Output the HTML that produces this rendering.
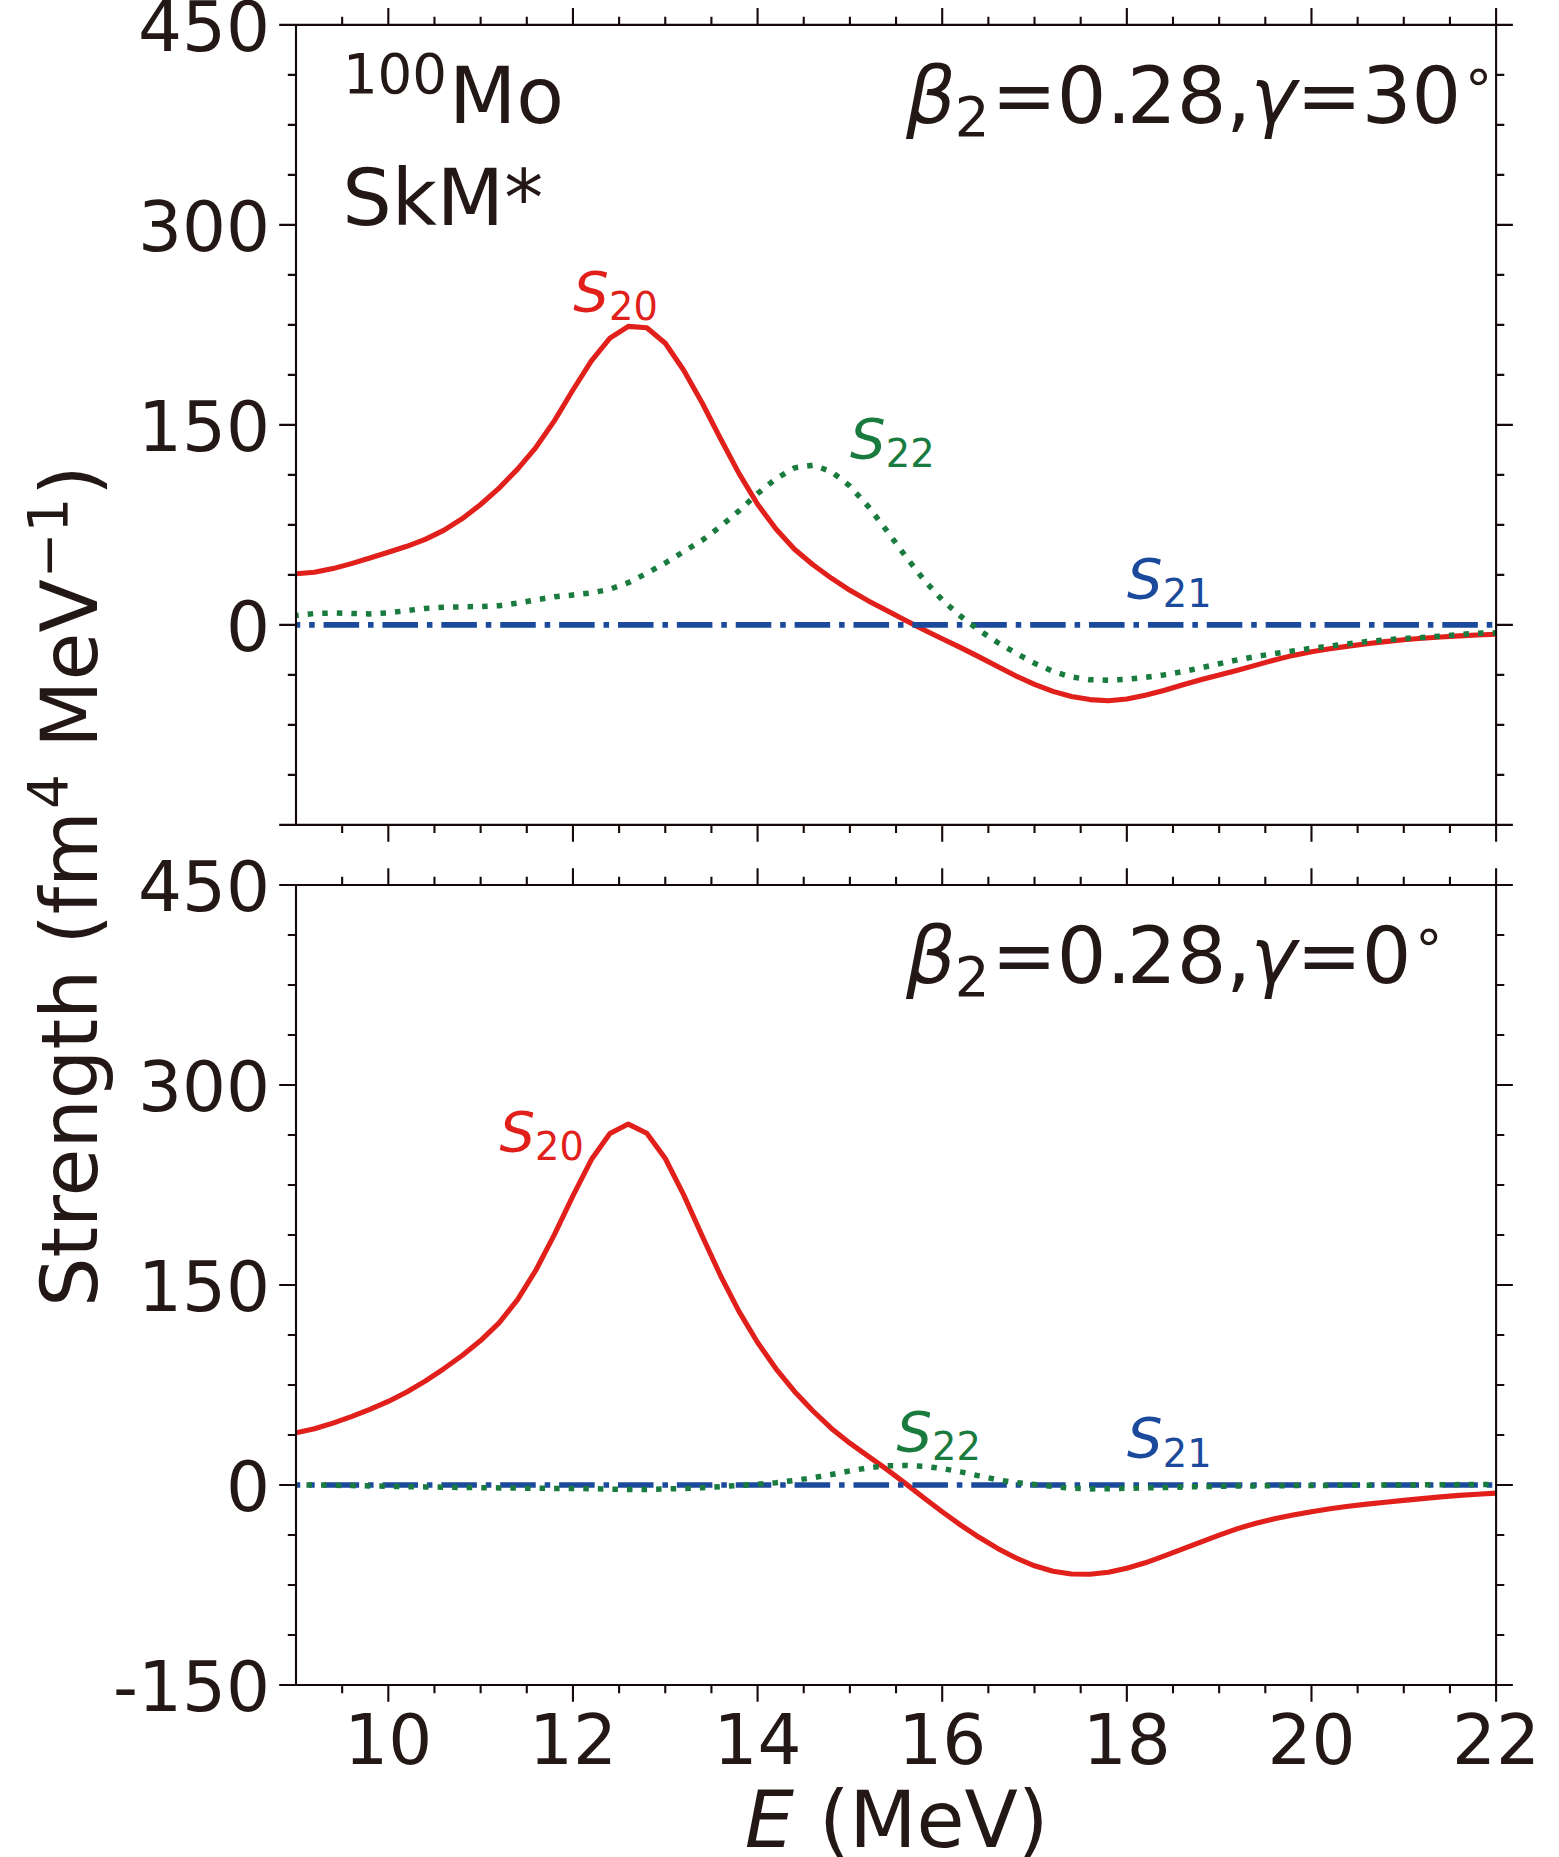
<!DOCTYPE html>
<html lang="en"><head><meta charset="utf-8"><title>Strength functions 100Mo SkM*</title>
<style>
html,body{margin:0;padding:0;background:#fff;}
body{width:1559px;height:1857px;overflow:hidden;}
svg{display:block;}
text{font-family:"DejaVu Sans","Liberation Sans",sans-serif;fill:#231815;}
.tk{font-size:69.2px;}
.lb{font-size:78px;}
.an{font-size:78px;}
.cl{font-size:56px;}
.sp{font-size:54.6px;}
.sb{font-size:38.4px;}
.it{font-style:italic;}
.ax{stroke:#150808;stroke-width:2.1;fill:none;stroke-linecap:butt;}
.cv{fill:none;stroke-linejoin:round;}
</style></head><body>
<svg width="1559" height="1857" viewBox="0 0 1559 1857">
<rect width="1559" height="1857" fill="#fff"/>
<defs>
<clipPath id="cpT"><rect x="296.0" y="24.9" width="1200.1" height="800.0"/></clipPath>
<clipPath id="cpB"><rect x="296.0" y="885.0" width="1200.1" height="800.0"/></clipPath>
</defs>

<g clip-path="url(#cpT)">
<path class="cv" d="M296.0 573.8 L314.5 572.3 L332.9 568.6 L351.4 563.6 L369.9 558.0 L388.3 552.2 L406.8 546.3 L425.2 539.4 L443.7 530.4 L462.2 518.7 L480.6 504.5 L499.1 488.1 L517.6 469.1 L536.0 447.3 L554.5 420.6 L572.9 390.0 L591.4 360.8 L609.9 338.1 L628.3 326.4 L646.8 327.7 L665.3 343.3 L683.7 370.3 L702.2 403.0 L720.7 439.0 L739.1 473.6 L757.6 504.3 L776.0 529.0 L794.5 549.2 L813.0 564.8 L831.4 578.2 L849.9 590.3 L868.4 600.9 L886.8 610.6 L905.3 620.3 L923.7 629.7 L942.2 638.8 L960.7 647.6 L979.1 656.9 L997.6 666.6 L1016.1 676.1 L1034.5 684.4 L1053.0 691.4 L1071.4 696.5 L1089.9 699.6 L1108.4 700.8 L1126.8 699.0 L1145.3 695.3 L1163.8 690.5 L1182.2 685.0 L1200.7 679.8 L1219.2 675.0 L1237.6 670.2 L1256.1 665.1 L1274.5 660.0 L1293.0 655.4 L1311.5 651.7 L1329.9 648.7 L1348.4 646.1 L1366.9 643.7 L1385.3 641.6 L1403.8 639.8 L1422.2 638.3 L1440.7 637.0 L1459.2 635.9 L1477.6 635.0 L1496.1 634.2" stroke="#e1201b" stroke-width="5.1"/>
<path class="cv" d="M296.0 624.9H1496.1" stroke="#1b4a9c" stroke-width="5.6" stroke-dasharray="35.55 8.89 5.55 8.89" stroke-dashoffset="31.3"/>
<path class="cv" d="M296.0 615.4 L314.5 613.5 L332.9 613.0 L351.4 613.5 L369.9 613.9 L388.3 612.9 L406.8 610.6 L425.2 608.4 L443.7 607.2 L462.2 606.8 L480.6 606.5 L499.1 605.7 L517.6 603.2 L536.0 599.8 L554.5 596.8 L572.9 595.0 L591.4 592.9 L609.9 589.2 L628.3 582.7 L646.8 573.3 L665.3 563.0 L683.7 551.6 L702.2 540.3 L720.7 526.3 L739.1 510.7 L757.6 493.6 L776.0 478.6 L794.5 467.9 L813.0 465.1 L831.4 471.6 L849.9 486.1 L868.4 506.6 L886.8 530.7 L905.3 555.9 L923.7 579.6 L942.2 599.9 L960.7 616.3 L979.1 630.2 L997.6 642.5 L1016.1 653.3 L1034.5 663.2 L1053.0 671.4 L1071.4 677.0 L1089.9 679.7 L1108.4 680.3 L1126.8 679.3 L1145.3 677.3 L1163.8 674.9 L1182.2 671.7 L1200.7 667.9 L1219.2 663.7 L1237.6 659.8 L1256.1 656.4 L1274.5 653.6 L1293.0 650.9 L1311.5 648.3 L1329.9 646.1 L1348.4 643.8 L1366.9 641.6 L1385.3 639.9 L1403.8 638.5 L1422.2 637.5 L1440.7 636.1 L1459.2 634.6 L1477.6 633.2 L1496.1 632.8" stroke="#1a7b3f" stroke-width="5.5" stroke-dasharray="5.5 9.07" stroke-dashoffset="2.8"/>
</g>
<g clip-path="url(#cpB)">
<path class="cv" d="M296.0 1432.8 L314.5 1428.7 L332.9 1423.1 L351.4 1416.6 L369.9 1409.4 L388.3 1401.4 L406.8 1392.0 L425.2 1381.1 L443.7 1368.8 L462.2 1355.5 L480.6 1340.6 L499.1 1322.8 L517.6 1299.6 L536.0 1270.0 L554.5 1234.4 L572.9 1195.8 L591.4 1159.6 L609.9 1133.6 L628.3 1124.1 L646.8 1133.3 L665.3 1158.5 L683.7 1194.9 L702.2 1236.0 L720.7 1276.0 L739.1 1311.6 L757.6 1342.5 L776.0 1368.8 L794.5 1391.4 L813.0 1411.0 L831.4 1428.4 L849.9 1443.2 L868.4 1456.3 L886.8 1469.4 L905.3 1483.4 L923.7 1497.7 L942.2 1511.8 L960.7 1525.1 L979.1 1537.3 L997.6 1548.4 L1016.1 1558.0 L1034.5 1565.8 L1053.0 1571.2 L1071.4 1574.0 L1089.9 1574.2 L1108.4 1572.2 L1126.8 1568.2 L1145.3 1562.8 L1163.8 1556.2 L1182.2 1549.2 L1200.7 1542.1 L1219.2 1535.1 L1237.6 1528.6 L1256.1 1523.2 L1274.5 1518.8 L1293.0 1515.1 L1311.5 1511.7 L1329.9 1508.7 L1348.4 1506.2 L1366.9 1504.1 L1385.3 1502.2 L1403.8 1500.4 L1422.2 1498.6 L1440.7 1496.9 L1459.2 1495.4 L1477.6 1494.2 L1496.1 1493.1" stroke="#e1201b" stroke-width="5.1"/>
<path class="cv" d="M296.0 1485.0H1496.1" stroke="#1b4a9c" stroke-width="5.6" stroke-dasharray="35.55 8.89 5.55 8.89" stroke-dashoffset="31.3"/>
<path class="cv" d="M296.0 1484.8 L314.5 1485.0 L332.9 1485.2 L351.4 1485.6 L369.9 1485.9 L388.3 1486.3 L406.8 1486.6 L425.2 1486.9 L443.7 1487.2 L462.2 1487.5 L480.6 1487.7 L499.1 1487.9 L517.6 1488.1 L536.0 1488.3 L554.5 1488.4 L572.9 1488.5 L591.4 1488.7 L609.9 1489.1 L628.3 1489.4 L646.8 1489.4 L665.3 1489.0 L683.7 1488.5 L702.2 1487.7 L720.7 1486.6 L739.1 1485.4 L757.6 1484.3 L776.0 1482.7 L794.5 1480.4 L813.0 1477.7 L831.4 1474.5 L849.9 1470.9 L868.4 1467.7 L886.8 1465.8 L905.3 1465.4 L923.7 1466.2 L942.2 1468.5 L960.7 1471.9 L979.1 1475.9 L997.6 1479.8 L1016.1 1482.6 L1034.5 1484.5 L1053.0 1486.4 L1071.4 1488.2 L1089.9 1488.9 L1108.4 1488.7 L1126.8 1488.3 L1145.3 1487.9 L1163.8 1487.5 L1182.2 1487.0 L1200.7 1486.6 L1219.2 1486.3 L1237.6 1486.1 L1256.1 1485.9 L1274.5 1485.8 L1293.0 1485.6 L1311.5 1485.5 L1329.9 1485.4 L1348.4 1485.3 L1366.9 1485.2 L1385.3 1485.1 L1403.8 1485.0 L1422.2 1484.9 L1440.7 1484.7 L1459.2 1484.6 L1477.6 1484.5 L1496.1 1484.3" stroke="#1a7b3f" stroke-width="5.5" stroke-dasharray="5.5 9.07" stroke-dashoffset="4.1"/>
</g>
<path class="ax" d="M296.0 24.9H1496.1V824.9H296.0ZM342.16 24.9v-8.2M342.16 824.9v8.2M388.32 24.9v-16.8M388.32 824.9v16.8M434.47 24.9v-8.2M434.47 824.9v8.2M480.63 24.9v-8.2M480.63 824.9v8.2M526.79 24.9v-8.2M526.79 824.9v8.2M572.95 24.9v-16.8M572.95 824.9v16.8M619.10 24.9v-8.2M619.10 824.9v8.2M665.26 24.9v-8.2M665.26 824.9v8.2M711.42 24.9v-8.2M711.42 824.9v8.2M757.58 24.9v-16.8M757.58 824.9v16.8M803.73 24.9v-8.2M803.73 824.9v8.2M849.89 24.9v-8.2M849.89 824.9v8.2M896.05 24.9v-8.2M896.05 824.9v8.2M942.21 24.9v-16.8M942.21 824.9v16.8M988.37 24.9v-8.2M988.37 824.9v8.2M1034.52 24.9v-8.2M1034.52 824.9v8.2M1080.68 24.9v-8.2M1080.68 824.9v8.2M1126.84 24.9v-16.8M1126.84 824.9v16.8M1173.00 24.9v-8.2M1173.00 824.9v8.2M1219.15 24.9v-8.2M1219.15 824.9v8.2M1265.31 24.9v-8.2M1265.31 824.9v8.2M1311.47 24.9v-16.8M1311.47 824.9v16.8M1357.63 24.9v-8.2M1357.63 824.9v8.2M1403.78 24.9v-8.2M1403.78 824.9v8.2M1449.94 24.9v-8.2M1449.94 824.9v8.2M1496.10 24.9v-16.8M1496.10 824.9v16.8M296.0 24.90h-16.8M1496.1 24.90h16.8M296.0 74.90h-8.2M1496.1 74.90h8.2M296.0 124.90h-8.2M1496.1 124.90h8.2M296.0 174.90h-8.2M1496.1 174.90h8.2M296.0 224.90h-16.8M1496.1 224.90h16.8M296.0 274.90h-8.2M1496.1 274.90h8.2M296.0 324.90h-8.2M1496.1 324.90h8.2M296.0 374.90h-8.2M1496.1 374.90h8.2M296.0 424.90h-16.8M1496.1 424.90h16.8M296.0 474.90h-8.2M1496.1 474.90h8.2M296.0 524.90h-8.2M1496.1 524.90h8.2M296.0 574.90h-8.2M1496.1 574.90h8.2M296.0 624.90h-16.8M1496.1 624.90h16.8M296.0 674.90h-8.2M1496.1 674.90h8.2M296.0 724.90h-8.2M1496.1 724.90h8.2M296.0 774.90h-8.2M1496.1 774.90h8.2M296.0 824.90h-16.8M1496.1 824.90h16.8"/>
<path class="ax" d="M296.0 885.0H1496.1V1685.0H296.0ZM342.16 885.0v-8.2M342.16 1685.0v8.2M388.32 885.0v-16.8M388.32 1685.0v16.8M434.47 885.0v-8.2M434.47 1685.0v8.2M480.63 885.0v-8.2M480.63 1685.0v8.2M526.79 885.0v-8.2M526.79 1685.0v8.2M572.95 885.0v-16.8M572.95 1685.0v16.8M619.10 885.0v-8.2M619.10 1685.0v8.2M665.26 885.0v-8.2M665.26 1685.0v8.2M711.42 885.0v-8.2M711.42 1685.0v8.2M757.58 885.0v-16.8M757.58 1685.0v16.8M803.73 885.0v-8.2M803.73 1685.0v8.2M849.89 885.0v-8.2M849.89 1685.0v8.2M896.05 885.0v-8.2M896.05 1685.0v8.2M942.21 885.0v-16.8M942.21 1685.0v16.8M988.37 885.0v-8.2M988.37 1685.0v8.2M1034.52 885.0v-8.2M1034.52 1685.0v8.2M1080.68 885.0v-8.2M1080.68 1685.0v8.2M1126.84 885.0v-16.8M1126.84 1685.0v16.8M1173.00 885.0v-8.2M1173.00 1685.0v8.2M1219.15 885.0v-8.2M1219.15 1685.0v8.2M1265.31 885.0v-8.2M1265.31 1685.0v8.2M1311.47 885.0v-16.8M1311.47 1685.0v16.8M1357.63 885.0v-8.2M1357.63 1685.0v8.2M1403.78 885.0v-8.2M1403.78 1685.0v8.2M1449.94 885.0v-8.2M1449.94 1685.0v8.2M1496.10 885.0v-16.8M1496.10 1685.0v16.8M296.0 885.00h-16.8M1496.1 885.00h16.8M296.0 935.00h-8.2M1496.1 935.00h8.2M296.0 985.00h-8.2M1496.1 985.00h8.2M296.0 1035.00h-8.2M1496.1 1035.00h8.2M296.0 1085.00h-16.8M1496.1 1085.00h16.8M296.0 1135.00h-8.2M1496.1 1135.00h8.2M296.0 1185.00h-8.2M1496.1 1185.00h8.2M296.0 1235.00h-8.2M1496.1 1235.00h8.2M296.0 1285.00h-16.8M1496.1 1285.00h16.8M296.0 1335.00h-8.2M1496.1 1335.00h8.2M296.0 1385.00h-8.2M1496.1 1385.00h8.2M296.0 1435.00h-8.2M1496.1 1435.00h8.2M296.0 1485.00h-16.8M1496.1 1485.00h16.8M296.0 1535.00h-8.2M1496.1 1535.00h8.2M296.0 1585.00h-8.2M1496.1 1585.00h8.2M296.0 1635.00h-8.2M1496.1 1635.00h8.2M296.0 1685.00h-16.8M1496.1 1685.00h16.8"/>
<text class="tk" x="270.1" y="51.2" text-anchor="end">450</text>
<text class="tk" x="270.1" y="251.2" text-anchor="end">300</text>
<text class="tk" x="270.1" y="451.2" text-anchor="end">150</text>
<text class="tk" x="270.1" y="651.2" text-anchor="end">0</text>
<text class="tk" x="270.1" y="911.3" text-anchor="end">450</text>
<text class="tk" x="270.1" y="1111.3" text-anchor="end">300</text>
<text class="tk" x="270.1" y="1311.3" text-anchor="end">150</text>
<text class="tk" x="270.1" y="1511.3" text-anchor="end">0</text>
<text class="tk" x="270.1" y="1711.3" text-anchor="end">-150</text>
<text class="tk" x="388.3" y="1764.3" text-anchor="middle">10</text>
<text class="tk" x="572.9" y="1764.3" text-anchor="middle">12</text>
<text class="tk" x="757.6" y="1764.3" text-anchor="middle">14</text>
<text class="tk" x="942.2" y="1764.3" text-anchor="middle">16</text>
<text class="tk" x="1126.8" y="1764.3" text-anchor="middle">18</text>
<text class="tk" x="1311.5" y="1764.3" text-anchor="middle">20</text>
<text class="tk" x="1496.1" y="1764.3" text-anchor="middle">22</text>
<text class="lb" transform="rotate(-90)"><tspan x="-1307.0" y="97.0">Strength (fm</tspan><tspan class="sp" x="-809.0" y="67.0">4</tspan><tspan x="-772.7" y="97.0"> MeV</tspan><tspan class="sp" x="-578.2" y="67.0">−1</tspan><tspan x="-495.8" y="97.0">)</tspan></text>
<text class="lb" x="744.8" y="1846.8"><tspan class="it">E</tspan> (MeV)</text>
<text class="an"><tspan class="sp" x="342.9" y="93.4">100</tspan><tspan x="449.0" y="123.2">Mo</tspan></text>
<text class="an" x="342.2" y="224.9">SkM*</text>
<text class="an"><tspan class="it" x="906.1" y="123.2">β</tspan><tspan class="sp" x="954.8" y="136.2">2</tspan><tspan x="991.5" y="123.2">=0.</tspan><tspan x="1127.1" y="123.2">28,</tspan><tspan class="it" x="1250.6" y="123.2">γ</tspan><tspan x="1296.5" y="123.2">=30</tspan><tspan class="sp" x="1461.6" y="93.5">∘</tspan></text>
<text class="an"><tspan class="it" x="906.1" y="983.2">β</tspan><tspan class="sp" x="954.8" y="996.2">2</tspan><tspan x="991.5" y="983.2">=0.</tspan><tspan x="1127.1" y="983.2">28,</tspan><tspan class="it" x="1250.6" y="983.2">γ</tspan><tspan x="1296.5" y="983.2">=0</tspan><tspan class="sp" x="1411.8" y="953.5">∘</tspan></text>
<text class="cl" style="fill:#e1201b"><tspan class="it" x="573.3" y="311.1">S</tspan><tspan class="sb" x="609.0" y="320.3">20</tspan></text>
<text class="cl" style="fill:#1a7b3f"><tspan class="it" x="850.1" y="458.0">S</tspan><tspan class="sb" x="885.8" y="467.0">22</tspan></text>
<text class="cl" style="fill:#1b4a9c"><tspan class="it" x="1127.1" y="598.0">S</tspan><tspan class="sb" x="1162.8" y="607.0">21</tspan></text>
<text class="cl" style="fill:#e1201b"><tspan class="it" x="499.4" y="1151.3">S</tspan><tspan class="sb" x="535.1" y="1160.2">20</tspan></text>
<text class="cl" style="fill:#1a7b3f"><tspan class="it" x="896.4" y="1451.4">S</tspan><tspan class="sb" x="932.1" y="1460.2">22</tspan></text>
<text class="cl" style="fill:#1b4a9c"><tspan class="it" x="1127.1" y="1457.3">S</tspan><tspan class="sb" x="1162.8" y="1466.6">21</tspan></text>
</svg>
</body></html>
